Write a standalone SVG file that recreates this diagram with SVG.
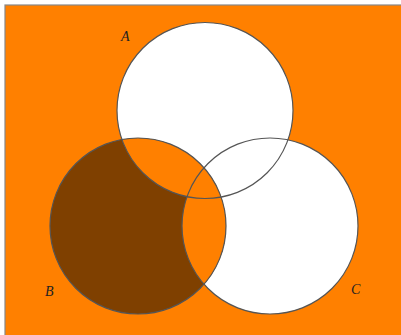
<svg xmlns="http://www.w3.org/2000/svg" width="401" height="335" viewBox="0 0 401 335">
<style>
.ring{fill:none;stroke:#555;stroke-width:1.2}
.lbl{font-family:"Liberation Serif","DejaVu Serif",serif;font-style:italic;font-size:14px;fill:#222}
</style>
<defs>
<clipPath id="clipB"><circle cx="138" cy="226" r="88"/></clipPath>
</defs>
<rect x="5" y="5" width="400" height="335" fill="#ff8000" stroke="#888" stroke-width="1.2"/>
<g id="A"><circle cx="205" cy="110.5" r="88" fill="#fff"/></g>
<g id="C"><circle cx="270" cy="226" r="88" fill="#fff"/></g>
<g id="B">
<circle cx="138" cy="226" r="88" fill="#7f4000"/>
<g clip-path="url(#clipB)" fill="#ff8000">
<circle cx="205" cy="110.5" r="88"/>
<circle cx="270" cy="226" r="88"/>
</g>
</g>
<g id="outlines">
<circle class="ring" cx="205" cy="110.5" r="88"/>
<circle class="ring" cx="138" cy="226" r="88"/>
<circle class="ring" cx="270" cy="226" r="88"/>
</g>
<text class="lbl" x="121" y="41">A</text>
<text class="lbl" x="45" y="296">B</text>
<text class="lbl" x="351" y="294">C</text>
</svg>
